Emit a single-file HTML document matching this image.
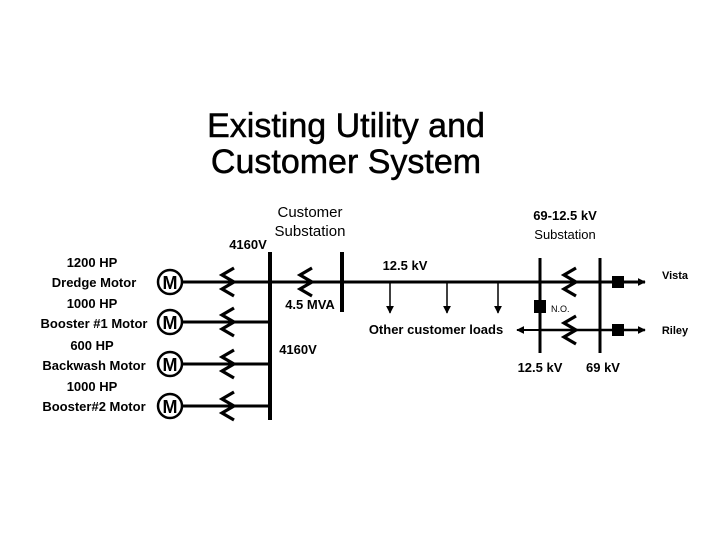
<!DOCTYPE html>
<html><head><meta charset="utf-8"><style>
html,body{margin:0;padding:0;background:#fff;}
svg{display:block}
text{font-family:"Liberation Sans",sans-serif;font-weight:bold;fill:#000}
</style></head><body>
<svg width="720" height="540" viewBox="0 0 720 540" xmlns="http://www.w3.org/2000/svg">
<defs>
<marker id="ar" viewBox="0 0 10 10" refX="9" refY="5" markerWidth="8" markerHeight="8" markerUnits="userSpaceOnUse" orient="auto"><path d="M0,0L10,5L0,10z" fill="#000"/></marker>
<g id="zz"><polyline points="6,-14 -6,-7 6,0 -6,7 6,14" fill="none" stroke="#000" stroke-width="3.2"/></g>
</defs>
<text x="346" y="137" font-size="34" text-anchor="middle" style="font-weight:normal" stroke="#000" stroke-width="0.5">Existing Utility and</text>
<text x="346" y="173" font-size="34" text-anchor="middle" style="font-weight:normal" stroke="#000" stroke-width="0.5">Customer System</text>

<text x="310" y="217" font-size="15" text-anchor="middle" style="font-weight:normal">Customer</text>
<text x="310" y="236" font-size="15" text-anchor="middle" style="font-weight:normal">Substation</text>
<text x="565" y="220" font-size="13" text-anchor="middle">69-12.5 kV</text>
<text x="565" y="239" font-size="13" text-anchor="middle" style="font-weight:normal">Substation</text>
<text x="248" y="249" font-size="13" text-anchor="middle">4160V</text>

<g font-size="13" text-anchor="middle">
<text x="92" y="267">1200 HP</text><text x="94" y="287">Dredge Motor</text>
<text x="92" y="308">1000 HP</text><text x="94" y="328">Booster #1 Motor</text>
<text x="92" y="350">600 HP</text><text x="94" y="370">Backwash Motor</text>
<text x="92" y="391">1000 HP</text><text x="94" y="411">Booster#2 Motor</text>
</g>

<g stroke="#000" fill="none">
<line x1="270" y1="252" x2="270" y2="420" stroke-width="4"/>
<line x1="342" y1="252" x2="342" y2="312" stroke-width="4"/>
<line x1="540" y1="258" x2="540" y2="353" stroke-width="3"/>
<line x1="600" y1="258" x2="600" y2="353" stroke-width="3"/>
<line x1="182" y1="282" x2="645" y2="282" stroke-width="3" marker-end="url(#ar)"/>
<line x1="182" y1="322" x2="270" y2="322" stroke-width="3"/>
<line x1="182" y1="364" x2="270" y2="364" stroke-width="3"/>
<line x1="182" y1="406" x2="270" y2="406" stroke-width="3"/>
<line x1="540" y1="330" x2="645" y2="330" stroke-width="2.5" marker-end="url(#ar)"/>
<line x1="540" y1="330" x2="517" y2="330" stroke-width="2" marker-end="url(#ar)"/>
<line x1="390" y1="282" x2="390" y2="313" stroke-width="1.5" marker-end="url(#ar)"/>
<line x1="447" y1="282" x2="447" y2="313" stroke-width="1.5" marker-end="url(#ar)"/>
<line x1="498" y1="282" x2="498" y2="313" stroke-width="1.5" marker-end="url(#ar)"/>
<circle cx="170" cy="282" r="12" stroke-width="2.5" fill="#fff"/>
<circle cx="170" cy="322" r="12" stroke-width="2.5" fill="#fff"/>
<circle cx="170" cy="364" r="12" stroke-width="2.5" fill="#fff"/>
<circle cx="170" cy="406" r="12" stroke-width="2.5" fill="#fff"/>
</g>
<g font-size="18" text-anchor="middle">
<text x="170" y="289">M</text>
<text x="170" y="329">M</text>
<text x="170" y="371">M</text>
<text x="170" y="413">M</text>
</g>
<use href="#zz" x="228" y="282"/>
<use href="#zz" x="228" y="322"/>
<use href="#zz" x="228" y="364"/>
<use href="#zz" x="228" y="406"/>
<use href="#zz" x="306" y="282"/>
<use href="#zz" x="570" y="282"/>
<use href="#zz" x="570" y="330"/>
<rect x="612" y="276" width="12" height="12" fill="#000"/>
<rect x="612" y="324" width="12" height="12" fill="#000"/>
<rect x="534" y="300" width="12" height="13" fill="#000"/>

<g font-size="13">
<text x="405" y="270" text-anchor="middle">12.5 kV</text>
<text x="310" y="309" text-anchor="middle">4.5 MVA</text>
<text x="298" y="354" text-anchor="middle">4160V</text>
<text x="436" y="334" text-anchor="middle">Other customer loads</text>
<text x="540" y="372" text-anchor="middle">12.5 kV</text>
<text x="603" y="372" text-anchor="middle">69 kV</text>
<text x="675" y="279" text-anchor="middle" font-size="11">Vista</text>
<text x="675" y="334" text-anchor="middle" font-size="11">Riley</text>
<text x="551" y="312" font-size="9" style="font-weight:normal">N.O.</text>
</g>
</svg>
</body></html>
